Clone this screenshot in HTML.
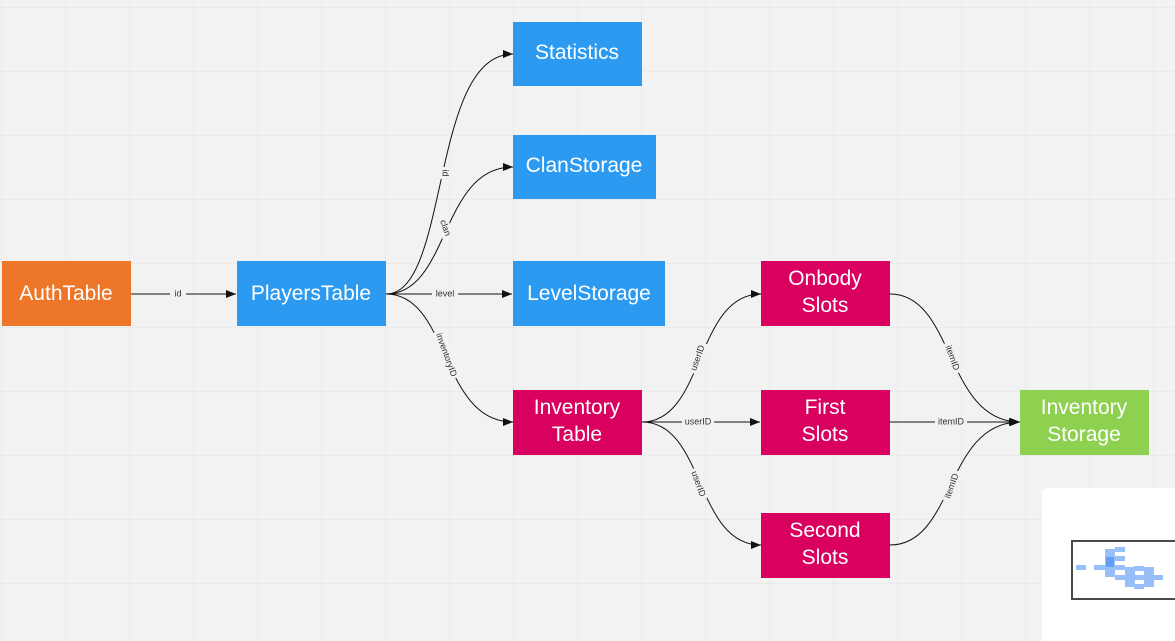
<!DOCTYPE html>
<html><head><style>
html,body{margin:0;padding:0;background:#f2f2f2;}
svg{display:block;font-family:"Liberation Sans",sans-serif;}
.n{font-size:21px;fill:#fff;text-anchor:middle;}
.l{font-size:9px;fill:#333;text-anchor:middle;dominant-baseline:middle;}
.e{fill:none;stroke:#111;stroke-width:1;}
</style></head><body>
<svg width="1175" height="641" viewBox="0 0 1175 641">
<defs>
<pattern id="g" x="1" y="7" width="64" height="64" patternUnits="userSpaceOnUse">
<path d="M0 0H64M0 0V64" stroke="#e4e4e4" stroke-width="1" fill="none"/>
</pattern>
<marker id="a" markerWidth="10" markerHeight="8" refX="10" refY="4" orient="auto" markerUnits="userSpaceOnUse">
<path d="M0,0 L10,4 L0,8 Z" fill="#111"/>
</marker>
</defs>
<rect width="1175" height="641" fill="url(#g)"/>

<!-- edges -->
<path class="e" d="M131 294 H236" marker-end="url(#a)"/>
<path class="e" d="M386 294 C450 294 430 54 513 54" marker-end="url(#a)"/>
<path class="e" d="M386 294 C450 294 440 167 513 167" marker-end="url(#a)"/>
<path class="e" d="M386 294 H512" marker-end="url(#a)"/>
<path class="e" d="M386 294 C450 294 440 422 513 422" marker-end="url(#a)"/>
<path class="e" d="M642 422 C705 422 695 294 761 294" marker-end="url(#a)"/>
<path class="e" d="M642 422 H760" marker-end="url(#a)"/>
<path class="e" d="M642 422 C705 422 695 545 761 545" marker-end="url(#a)"/>
<path class="e" d="M890 294 C955 294 945 422 1020 422" marker-end="url(#a)"/>
<path class="e" d="M890 422 H1019" marker-end="url(#a)"/>
<path class="e" d="M890 545 C955 545 945 422 1020 422" marker-end="url(#a)"/>

<!-- edge labels -->
<rect x="170" y="288" width="16" height="12" fill="#f2f2f2"/><text class="l" x="178" y="294">id</text>
<rect x="432" y="288" width="26" height="12" fill="#f2f2f2"/><text class="l" x="445" y="294">level</text>
<g transform="translate(445,173) rotate(90)"><rect x="-6" y="-6" width="12" height="12" fill="#f2f2f2"/><text class="l" x="0" y="0">id</text></g>
<g transform="translate(445,228) rotate(70)"><rect x="-11" y="-6" width="22" height="12" fill="#f2f2f2"/><text class="l" x="0" y="0">clan</text></g>
<g transform="translate(446,355) rotate(70)"><rect x="-25" y="-6" width="50" height="12" fill="#f2f2f2"/><text class="l" x="0" y="0">inventoryID</text></g>
<g transform="translate(698,358) rotate(-70)"><rect x="-16" y="-6" width="32" height="12" fill="#f2f2f2"/><text class="l" x="0" y="0">userID</text></g>
<rect x="682" y="416" width="32" height="12" fill="#f2f2f2"/><text class="l" x="698" y="422">userID</text>
<g transform="translate(698,484) rotate(70)"><rect x="-16" y="-6" width="32" height="12" fill="#f2f2f2"/><text class="l" x="0" y="0">userID</text></g>
<g transform="translate(952,358) rotate(70)"><rect x="-16" y="-6" width="32" height="12" fill="#f2f2f2"/><text class="l" x="0" y="0">itemID</text></g>
<rect x="935" y="416" width="32" height="12" fill="#f2f2f2"/><text class="l" x="951" y="422">itemID</text>
<g transform="translate(952,486) rotate(-70)"><rect x="-16" y="-6" width="32" height="12" fill="#f2f2f2"/><text class="l" x="0" y="0">itemID</text></g>

<!-- nodes -->
<rect x="2" y="261" width="129" height="65" fill="#ED7629"/><text class="n" x="66" y="300">AuthTable</text>
<rect x="237" y="261" width="149" height="65" fill="#2C9AF0"/><text class="n" x="311" y="300">PlayersTable</text>
<rect x="513" y="22" width="129" height="64" fill="#2C9AF0"/><text class="n" x="577" y="59">Statistics</text>
<rect x="513" y="135" width="143" height="64" fill="#2C9AF0"/><text class="n" x="584" y="172">ClanStorage</text>
<rect x="513" y="261" width="152" height="65" fill="#2C9AF0"/><text class="n" x="589" y="300">LevelStorage</text>
<rect x="513" y="390" width="129" height="65" fill="#D9005F"/><text class="n" x="577" y="414">Inventory</text><text class="n" x="577" y="441">Table</text>
<rect x="761" y="261" width="129" height="65" fill="#D9005F"/><text class="n" x="825" y="285">Onbody</text><text class="n" x="825" y="312">Slots</text>
<rect x="761" y="390" width="129" height="65" fill="#D9005F"/><text class="n" x="825" y="414">First</text><text class="n" x="825" y="441">Slots</text>
<rect x="761" y="513" width="129" height="65" fill="#D9005F"/><text class="n" x="825" y="537">Second</text><text class="n" x="825" y="564">Slots</text>
<rect x="1020" y="390" width="129" height="65" fill="#8ED04F"/><text class="n" x="1084" y="414">Inventory</text><text class="n" x="1084" y="441">Storage</text>

<!-- minimap -->
<rect x="1042" y="488" width="140" height="160" rx="6" fill="#fff"/>
<rect x="1072" y="541" width="110" height="58" fill="#fff" stroke="#4a4a4a" stroke-width="2"/>
<g fill="#7fb0f7" opacity="0.8">
<rect x="1076" y="565" width="10" height="5"/>
<rect x="1094" y="565" width="12" height="5"/>
<rect x="1105" y="549" width="10" height="28"/>
<rect x="1115" y="547" width="10" height="5"/>
<rect x="1115" y="556" width="10" height="5"/>
<rect x="1115" y="565" width="10" height="5"/>
<rect x="1115" y="575" width="40" height="5"/>
<rect x="1125" y="567" width="10" height="20"/>
<rect x="1134" y="566" width="10" height="5"/>
<rect x="1134" y="584" width="10" height="5"/>
<rect x="1144" y="567" width="10" height="20"/>
<rect x="1155" y="575" width="8" height="5"/>
</g>
<rect x="1106" y="557" width="8" height="10" fill="#4d8ff5" opacity="0.7"/>
</svg>
</body></html>
